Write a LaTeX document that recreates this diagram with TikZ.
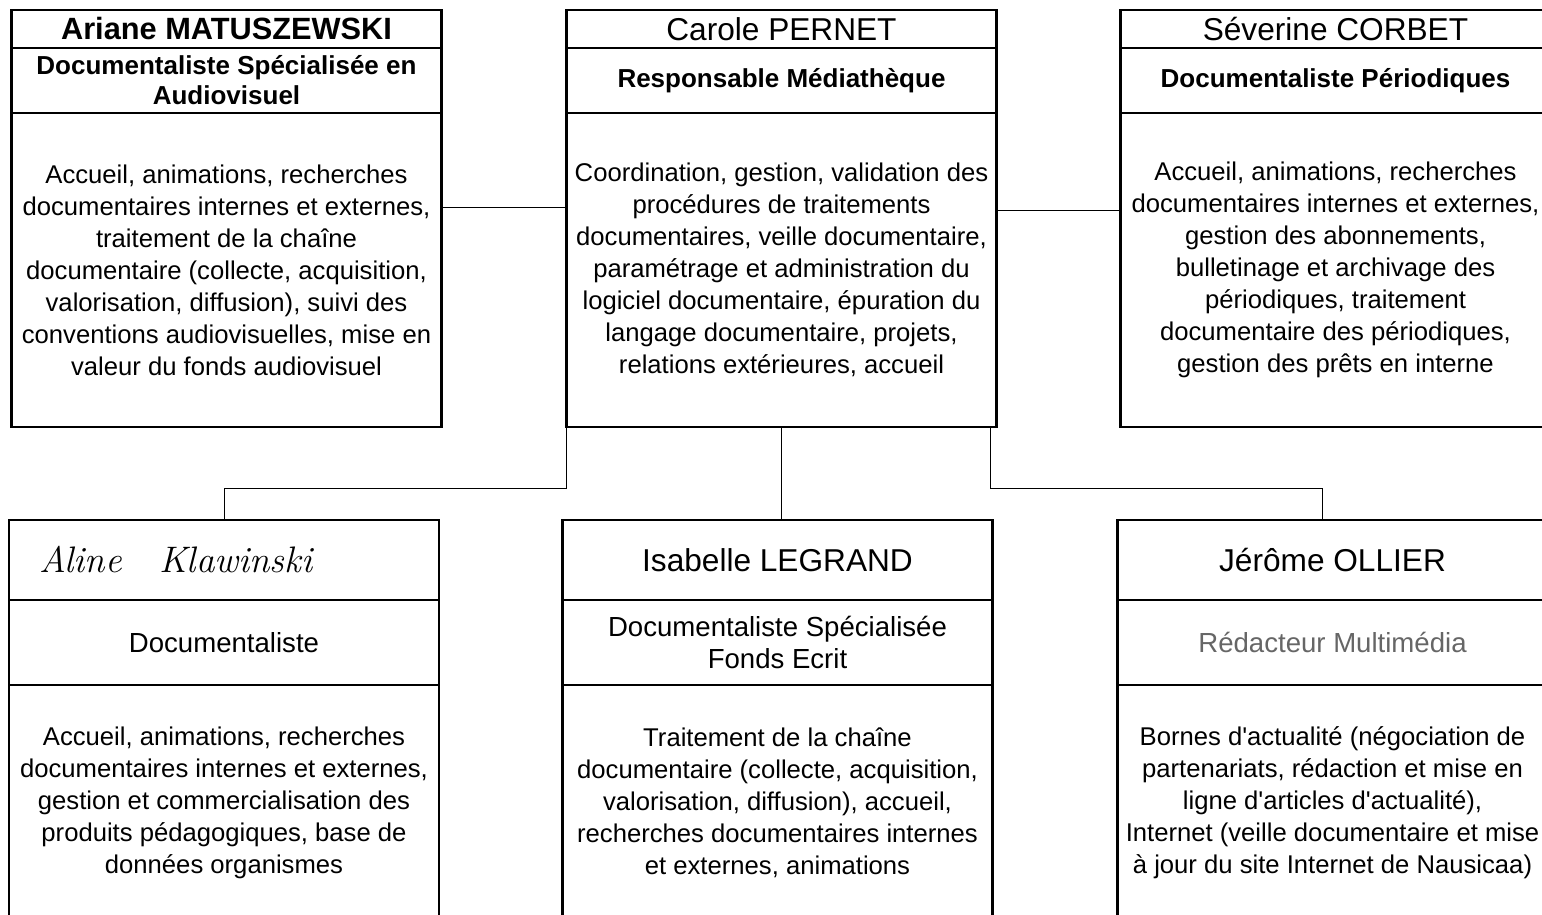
\documentclass[tikz,border=0pt]{standalone}
\usepackage{fontspec}
\newfontfamily\arial{Liberation Sans}
\usetikzlibrary{positioning,fit,calc}
\tikzset{
  cell/.style={rectangle, draw, line width=0.8pt, outer sep=0pt, inner sep=1pt,
               minimum width=8.6cm, align=center, font=\arial},
  topname/.style={cell, minimum height=0.76cm, font=\arial\fontsize{18}{21}\selectfont},
  toptitle/.style={cell, minimum height=1.3cm, font=\arial\bfseries\fontsize{14.8}{17}\selectfont},
  toptasks/.style={cell, minimum height=6.28cm, font=\arial\fontsize{14.6}{18.2}\selectfont},
  lowname/.style={cell, minimum height=1.6cm, font=\arial\fontsize{18}{21}\selectfont},
  lowtitle/.style={cell, minimum height=1.7cm, font=\arial\fontsize{15.7}{17.8}\selectfont},
  lowtasks/.style={cell, minimum height=4.7cm, font=\arial\fontsize{14.6}{18.2}\selectfont},
  frame/.style={rectangle, draw, line width=1.4pt, inner sep=0pt},
  link/.style={draw, line width=0.5pt},
}
\begin{document}
\begin{tikzpicture}[x=0.02cm, y=-0.02cm]
\useasboundingbox (0,0) rectangle (1542,915);
\clip (0,0) rectangle (1542,915);

% upper row
\node[topname, font=\arial\bfseries\fontsize{17.5}{20}\selectfont] (aName) at (226.5,29) {Ariane MATUSZEWSKI};
\node[toptitle, below=0pt of aName] (aTitle) {Documentaliste Spécialisée en\\Audiovisuel};
\node[toptasks, below=0pt of aTitle] (aTasks) {Accueil, animations, recherches\\documentaires internes et externes,\\traitement de la chaîne\\documentaire (collecte, acquisition,\\valorisation, diffusion), suivi des\\conventions audiovisuelles, mise en\\valeur du fonds audiovisuel};
\node[frame, fit=(aName)(aTasks)] (ariane) {};

\node[topname] (pName) at (781.5,29) {Carole PERNET};
\node[toptitle, below=0pt of pName] (pTitle) {Responsable Médiathèque};
\node[toptasks, below=0pt of pTitle] (pTasks) {Coordination, gestion, validation des\\procédures de traitements\\documentaires, veille documentaire,\\paramétrage et administration du\\logiciel documentaire, épuration du\\langage documentaire, projets,\\relations extérieures, accueil};
\node[frame, fit=(pName)(pTasks)] (pernet) {};

\node[topname] (sName) at (1335.5,29) {Séverine CORBET};
\node[toptitle, below=0pt of sName] (sTitle) {Documentaliste Périodiques};
\node[toptasks, below=0pt of sTitle] (sTasks) {Accueil, animations, recherches\\documentaires internes et externes,\\gestion des abonnements,\\bulletinage et archivage des\\périodiques, traitement\\documentaire des périodiques,\\gestion des prêts en interne};
\node[frame, fit=(sName)(sTasks)] (corbet) {};

% lower row
\node[lowname, text width=8.3cm, align=left, font=\itshape\fontsize{21}{24}\selectfont] (alName) at (224,560)
  {\hspace*{0.45cm}Aline\hspace{0.75cm}Klawinski};
\node[lowtitle, below=0pt of alName] (alTitle) {Documentaliste};
\node[lowtasks, below=0pt of alTitle] (alTasks) {Accueil, animations, recherches\\documentaires internes et externes,\\gestion et commercialisation des\\produits pédagogiques, base de\\données organismes};
\node[frame, fit=(alName)(alTasks)] (aline) {};

\node[lowname] (lgName) at (777.5,560) {Isabelle LEGRAND};
\node[lowtitle, below=0pt of lgName] (lgTitle) {Documentaliste Spécialisée\\Fonds Ecrit};
\node[lowtasks, below=0pt of lgTitle] (lgTasks) {Traitement de la chaîne\\documentaire (collecte, acquisition,\\valorisation, diffusion), accueil,\\recherches documentaires internes\\et externes, animations};
\node[frame, fit=(lgName)(lgTasks)] (legrand) {};

\node[lowname] (olName) at (1332.5,560) {Jérôme OLLIER};
\node[lowtitle, below=0pt of olName, text=black!60] (olTitle) {Rédacteur Multimédia};
\node[lowtasks, below=0pt of olTitle] (olTasks) {Bornes d'actualité (négociation de\\partenariats, rédaction et mise en\\ligne d'articles d'actualité),\\Internet (veille documentaire et mise\\à jour du site Internet de Nausicaa)};
\node[frame, fit=(olName)(olTasks)] (ollier) {};

% connectors
\draw[link] ($(aTasks.north east)+(0,94)$) -- ($(pTasks.north west)+(0,94)$);
\draw[link] ($(pTasks.north east)+(0,97)$) -- ($(sTasks.north west)+(0,97)$);
\draw[link] (pTasks.south west) -- ++(0,62) -| (alName.north);
\draw[link] (pTasks.south) -- (pTasks.south |- lgName.north);
\draw[link] ([xshift=-0.13cm]pTasks.south east) -- ++(0,62) -| ([xshift=-0.2cm]olName.north);
\end{tikzpicture}
\end{document}
